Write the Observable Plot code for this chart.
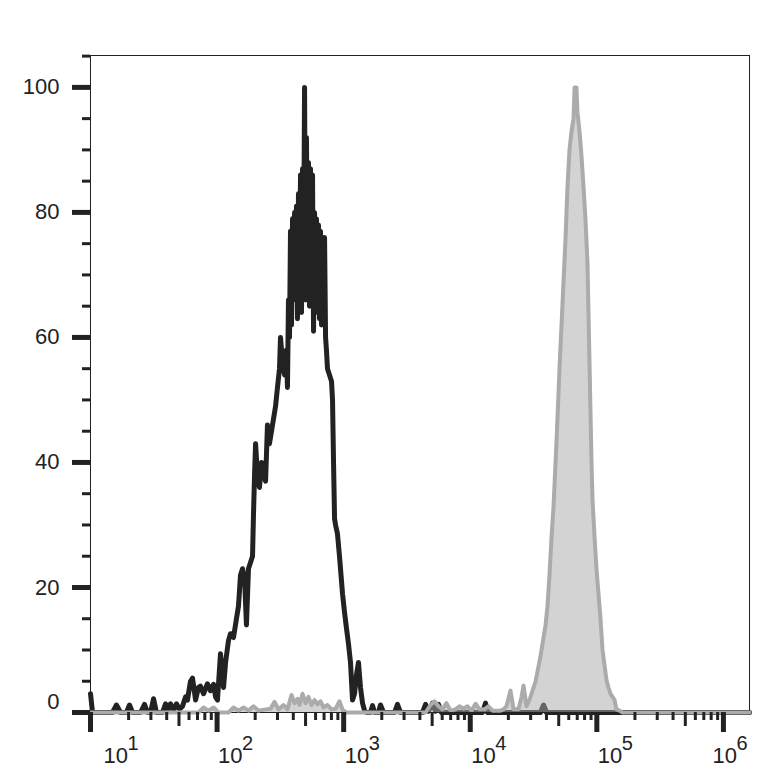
<!DOCTYPE html>
<html>
<head>
<meta charset="utf-8">
<script src="https://cdn.jsdelivr.net/npm/d3@7"></script>
<script src="https://cdn.jsdelivr.net/npm/@observablehq/plot@0.6"></script>
<style>
  html, body { margin: 0; padding: 0; background: #fff; }
  #chart svg { display: block; }
</style>
</head>
<body>
<div id="chart"></div>
<script>
// ---- Data: log10 fluorescence intensity and % of max ----
const blackLogX = [1.000,1.016,1.174,1.205,1.237,1.284,1.308,1.332,1.395,1.427,1.450,1.474,1.498,1.521,1.569,1.593,1.608,1.632,1.656,1.679,1.703,1.727,1.751,1.766,1.790,1.806,1.830,1.853,1.869,1.893,1.924,1.948,1.972,1.988,2.003,2.027,2.051,2.067,2.090,2.106,2.130,2.153,2.169,2.185,2.201,2.217,2.232,2.248,2.264,2.280,2.288,2.296,2.304,2.319,2.335,2.351,2.367,2.383,2.398,2.414,2.430,2.446,2.462,2.477,2.493,2.501,2.517,2.533,2.548,2.556,2.564,2.572,2.580,2.588,2.596,2.604,2.612,2.620,2.627,2.635,2.643,2.651,2.659,2.667,2.675,2.683,2.691,2.699,2.706,2.714,2.722,2.730,2.738,2.746,2.754,2.762,2.770,2.777,2.785,2.793,2.801,2.809,2.817,2.825,2.833,2.841,2.849,2.857,2.864,2.872,2.888,2.904,2.912,2.920,2.928,2.936,2.951,2.967,2.983,2.991,3.007,3.022,3.038,3.054,3.062,3.070,3.086,3.101,3.117,3.133,3.149,3.165,3.180,3.212,3.228,3.244,3.275,3.291,3.315,3.402,3.425,3.449,3.623,3.647,3.670,3.702,3.726,3.749,3.773,4.097,4.121,4.136,4.555,4.579,4.602,6.206];
const blackCount = [3,0,0,1.2,0,0,1.2,0,0,1.3,0,0,2.2,0,0,1.4,0.3,1.4,0.3,1.4,0.5,1,2.5,2,5,5.5,2,4,4.2,3,4.6,3.5,4.5,2.5,2,9.4,4,8,11.5,12.6,12,15,17,22,23,21.5,14,23,24,25,32,38,43,38,36,40,38,37,46,43,45,47,49,52,55,60,56,54,58,52,66,60,77,62,79,66,80,68,81,63,83,66,86,64,87,70,100,66,92,70,88,65,87,68,86,61,80,66,79,64,78,63,77,62,76,63,76,60,58,55,54,53,50,40,31,30,28.6,25,21,19,16,13.5,11,8,5,2,3,6,8,4,1.5,0.3,0,0,1.1,0,0,1.2,0,0,1.3,0,0,1.3,0.2,1.5,0.2,1.3,0,0,1.5,0,0,1.2,0,0];

const grayLogX = [1.000,1.853,1.893,1.932,1.972,2.011,2.090,2.130,2.169,2.209,2.248,2.288,2.327,2.383,2.422,2.454,2.485,2.525,2.556,2.588,2.612,2.635,2.651,2.675,2.699,2.722,2.746,2.770,2.793,2.817,2.841,2.872,2.904,2.936,2.967,2.991,3.022,3.647,3.686,3.718,3.749,3.781,3.812,3.844,3.884,3.915,3.947,3.978,4.010,4.042,4.073,4.113,4.144,4.176,4.239,4.263,4.286,4.318,4.342,4.381,4.405,4.421,4.444,4.468,4.492,4.516,4.531,4.555,4.571,4.595,4.610,4.626,4.642,4.658,4.674,4.689,4.705,4.721,4.737,4.753,4.768,4.784,4.800,4.816,4.824,4.839,4.847,4.863,4.879,4.895,4.910,4.926,4.934,4.942,4.950,4.958,4.966,4.982,4.997,5.013,5.029,5.045,5.061,5.076,5.092,5.108,5.124,5.140,5.155,5.179,5.203,6.206];
const grayCount = [0,0,0.8,0.3,0.8,0,0,0.8,0.3,0.8,0.3,1,0.3,0.5,0.6,1.7,0.5,1.2,0.5,2.8,1.5,2.2,1.2,3,1.5,2.5,1.2,2,1.3,1.8,0.8,1.2,0.5,0.6,1.8,0.4,0,0,1.2,1.8,1,0.5,1.5,0.3,0.5,1,0.6,1,0.3,1.4,0.5,0.5,1,0.3,0.3,0.5,1,3.5,0.5,0.5,2.5,4.3,1,2,3.5,5,6.5,9,11,14,17,22,28,33,40,47,55,62,69,76,84,90,93,95,100,100,96,93,89,84,79,72,64,56,48,40,34,28,23,19,15,10,7.5,5.2,4,3,2.5,2,0.5,0.3,0,0];

// ---- Axis ticks and labels ----
const yMajorTicks = [0, 20, 40, 60, 80, 100];
const yMinorTicks = [5, 10, 15, 25, 30, 35, 45, 50, 55, 65, 70, 75, 85, 90, 95, 105];
const xDecades = [10, 100, 1000, 10000, 100000, 1000000];
const xExponents = ["1", "2", "3", "4", "5", "6"];
const minorMultipliers = [2, 3, 4, 6, 7, 8, 9];
const midMultiplier = 5;

const black = blackLogX.map((l, i) => ({x: 10 ** l, y: blackCount[i]}));
const gray = grayLogX.map((l, i) => ({x: 10 ** l, y: grayCount[i]}));
const xMinorTicks = xDecades.flatMap(d => minorMultipliers.map(m => d * m)).filter(v => v <= 10 ** 6.206);
const xMidTicks = xDecades.map(d => d * midMultiplier).filter(v => v <= 10 ** 6.206);
const xLabels = xDecades.map((d, i) => ({x: d, exp: xExponents[i], i}));

const font = "'Liberation Sans', Arial, Helvetica, sans-serif";
const ink = "#222";
const labelShift = (i) => i === 0 ? 13 : i === xDecades.length - 1 ? -11 : 1;

const chart = Plot.plot({
  width: 779,
  height: 780,
  marginLeft: 90,
  marginRight: 30,
  marginTop: 55,
  marginBottom: 68,
  style: {fontFamily: font, fontSize: "22px", color: ink, background: "#fff"},
  x: {type: "log", domain: [10, 10 ** 6.206], axis: null},
  y: {domain: [0, 105.1], axis: null},
  marks: [
    Plot.frame({stroke: ink, strokeWidth: 1}),
    Plot.line(black, {x: "x", y: "y", stroke: ink, strokeWidth: 5, strokeLinejoin: "round"}),
    Plot.areaY(gray, {x: "x", y: "y", fill: "#a8a8a8", fillOpacity: 0.5}),
    Plot.line(gray, {x: "x", y: "y", stroke: "#ababab", strokeWidth: 4, strokeLinejoin: "round"}),
    // y ticks
    Plot.axisY({ticks: yMajorTicks, tickSize: 18, strokeWidth: 5, stroke: ink, fill: "none"}),
    Plot.axisY({ticks: yMinorTicks, tickSize: 8, strokeWidth: 3, stroke: ink, fill: "none"}),
    // x ticks
    Plot.axisX({ticks: xDecades, tickSize: 20, strokeWidth: 5, stroke: ink, fill: "none"}),
    Plot.axisX({ticks: xMidTicks, tickSize: 14, strokeWidth: 3, stroke: ink, fill: "none"}),
    Plot.axisX({ticks: xMinorTicks, tickSize: 8, strokeWidth: 3, stroke: ink, fill: "none"}),
    // y labels
    Plot.text(yMajorTicks.filter(v => v !== 0), {y: d => d, text: d => String(d), frameAnchor: "left", textAnchor: "end", dx: -31, fill: ink, fontSize: 22}),
    Plot.text([0], {y: d => d, text: d => String(d), frameAnchor: "left", textAnchor: "end", dx: -31, dy: -11, fill: ink, fontSize: 22}),
    // x labels: "10" with raised exponent
    ...xLabels.map(l => Plot.text([l], {x: "x", text: () => "10", frameAnchor: "bottom", textAnchor: "start", dx: labelShift(l.i), dy: 50, fill: ink, fontSize: 22})),
    ...xLabels.map(l => Plot.text([l], {x: "x", text: "exp", frameAnchor: "bottom", textAnchor: "start", dx: labelShift(l.i) + 24, dy: 37, fill: ink, fontSize: 20}))
  ]
});
document.getElementById("chart").appendChild(chart);
</script>
</body>
</html>
